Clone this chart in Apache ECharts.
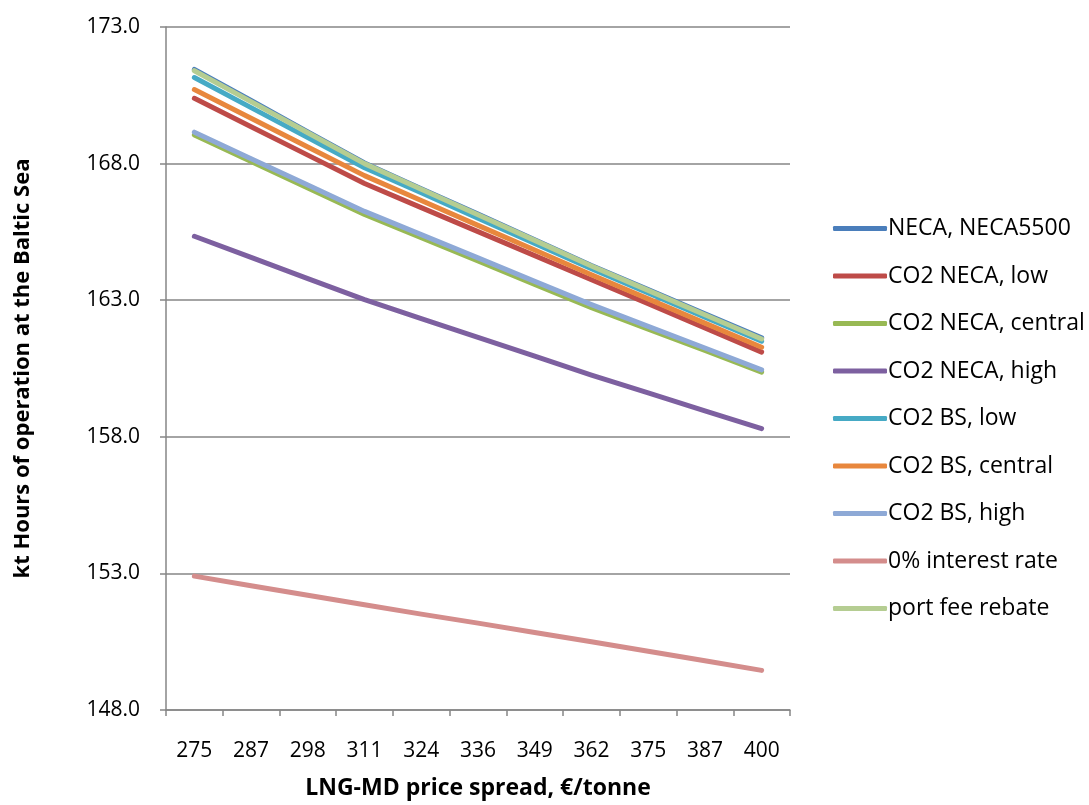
<!DOCTYPE html>
<html>
<head>
<meta charset="utf-8">
<title>LNG-MD price spread vs. hours of operation</title>
<script src="https://cdn.jsdelivr.net/npm/echarts@6/dist/echarts.min.js"></script>
<style>
  html, body { margin: 0; padding: 0; background: #ffffff; }
  #chart { width: 1089px; height: 805px; }
</style>
</head>
<body>
<div id="chart"></div>
<script>
// LNG-MD price spread (€/tonne)
const categories = ['275', '287', '298', '311', '324', '336', '349', '362', '375', '387', '400'];

// kt hours of operation at the Baltic Sea, per scenario
const necaNeca5500   = [171.45, 170.31, 169.16, 168.02, 167.08, 166.15, 165.21, 164.27, 163.39, 162.50, 161.62];
const co2NecaLow     = [170.39, 169.35, 168.31, 167.27, 166.39, 165.51, 164.63, 163.75, 162.87, 161.98, 161.10];
const co2NecaCentral = [169.05, 168.08, 167.11, 166.14, 165.29, 164.44, 163.58, 162.73, 161.94, 161.16, 160.37];
const co2NecaHigh    = [165.34, 164.57, 163.79, 163.02, 162.33, 161.64, 160.95, 160.26, 159.61, 158.95, 158.30];
const co2BsLow       = [171.15, 170.05, 168.95, 167.85, 166.93, 166.00, 165.08, 164.15, 163.27, 162.38, 161.50];
const co2BsCentral   = [170.71, 169.66, 168.61, 167.56, 166.65, 165.74, 164.84, 163.93, 163.05, 162.16, 161.28];
const co2BsHigh      = [169.15, 168.18, 167.22, 166.25, 165.40, 164.55, 163.69, 162.84, 162.04, 161.25, 160.45];
const zeroInterest   = [152.90, 152.55, 152.20, 151.85, 151.51, 151.18, 150.84, 150.50, 150.15, 149.80, 149.45];
const portFeeRebate  = [171.40, 170.27, 169.13, 168.00, 167.06, 166.13, 165.19, 164.25, 163.36, 162.47, 161.58];

const seriesNames = [
  'NECA, NECA5500', 'CO2 NECA, low', 'CO2 NECA, central', 'CO2 NECA, high',
  'CO2 BS, low', 'CO2 BS, central', 'CO2 BS, high', '0% interest rate', 'port fee rebate'
];
const seriesValues = [
  necaNeca5500, co2NecaLow, co2NecaCentral, co2NecaHigh,
  co2BsLow, co2BsCentral, co2BsHigh, zeroInterest, portFeeRebate
];
const seriesColors = [
  '#4A7EBB', '#BE4B48', '#98B954', '#7D60A0',
  '#46AAC5', '#E8873D', '#8EA9D6', '#D48D8C', '#B5CD92'
];

const axisGray = '#868686';
const textFont = '"Open Sans", "DejaVu Sans", sans-serif';

const chart = echarts.init(document.getElementById('chart'), null, { renderer: 'canvas' });

chart.setOption({
  animation: false,
  backgroundColor: '#ffffff',
  grid: { left: 166, right: 299, top: 27, bottom: 89, containLabel: false },
  legend: {
    orient: 'vertical',
    left: 828,
    top: 212,
    itemWidth: 54,
    itemHeight: 5,
    itemGap: 24.5,
    icon: 'roundRect',
    textStyle: { fontFamily: textFont, fontSize: 23, color: '#000000', padding: [0, 0, 0, -4] },
    data: seriesNames
  },
  xAxis: {
    type: 'category',
    data: categories,
    boundaryGap: true,
    name: 'LNG-MD price spread, €/tonne',
    nameLocation: 'middle',
    nameGap: 67,
    nameTextStyle: { fontFamily: textFont, fontSize: 23, fontWeight: 'bold', color: '#000000' },
    axisLine: { lineStyle: { color: axisGray, width: 1.5 } },
    axisTick: { show: true, alignWithLabel: false, length: 6, lineStyle: { color: axisGray, width: 1.5 } },
    axisLabel: { fontFamily: textFont, fontSize: 21, color: '#000000', margin: 31, interval: 0 },
    splitLine: { show: false }
  },
  yAxis: {
    type: 'value',
    min: 148,
    max: 173,
    interval: 5,
    name: 'kt Hours of operation at the Baltic Sea',
    nameLocation: 'middle',
    nameRotate: 90,
    nameGap: 132,
    nameTextStyle: { fontFamily: textFont, fontSize: 22, fontWeight: 'bold', color: '#000000' },
    axisLine: { show: true, lineStyle: { color: axisGray, width: 1.5 } },
    axisTick: { show: true, length: 6, lineStyle: { color: axisGray, width: 1.5 } },
    axisLabel: {
      fontFamily: textFont, fontSize: 21, color: '#000000', margin: 26,
      formatter: v => v.toFixed(1)
    },
    splitLine: { show: true, lineStyle: { color: axisGray, width: 1.5 } }
  },
  series: seriesNames.map((name, i) => ({
    name,
    type: 'line',
    data: seriesValues[i],
    showSymbol: false,
    symbol: 'none',
    smooth: false,
    color: seriesColors[i],
    lineStyle: { width: 5, color: seriesColors[i], cap: 'round', join: 'round' },
    emphasis: { disabled: true }
  }))
});
</script>
</body>
</html>
